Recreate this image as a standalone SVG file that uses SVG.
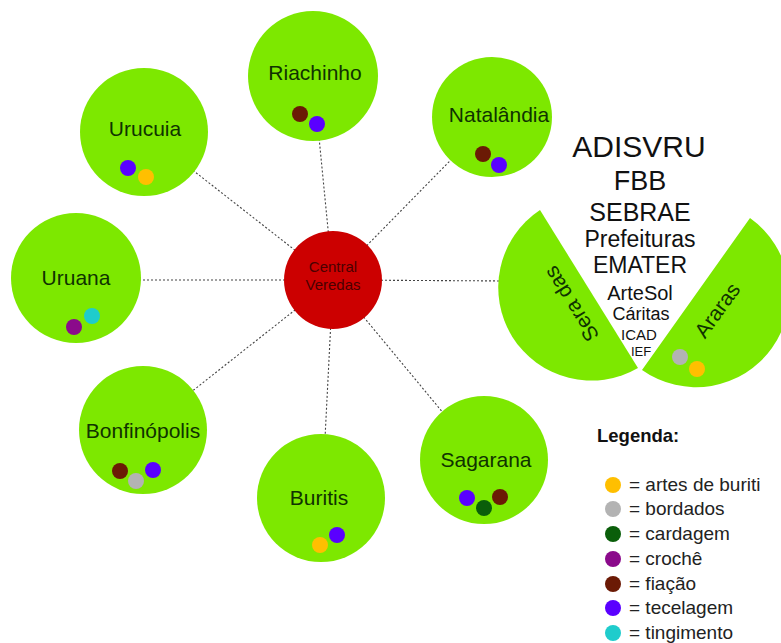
<svg xmlns="http://www.w3.org/2000/svg" width="781" height="643" viewBox="0 0 781 643">
<style>
text{font-family:"Liberation Sans",Arial,sans-serif}
.node{fill:#7de800}
.lbl{font-size:21px;fill:#0f3300;text-anchor:middle}
.conn line{stroke:#444;stroke-width:1.1;stroke-dasharray:2 2}
.org{fill:#111;text-anchor:middle}
.leg{font-size:19px;fill:#222}
.y{fill:#ffbf00}.g{fill:#b3b3b3}.dg{fill:#0a5e0a}.m{fill:#8b0a8b}.b{fill:#6b1a05}.p{fill:#5a00ff}.c{fill:#1fcccc}
</style>
<rect width="781" height="643" fill="#fff"/>
<g id="connectors" class="conn">
<line x1="333" y1="280" x2="313" y2="76"/>
<line x1="333" y1="280" x2="144" y2="132"/>
<line x1="333" y1="280" x2="493" y2="117"/>
<line x1="333" y1="280" x2="76" y2="280"/>
<line x1="333" y1="280" x2="143" y2="430"/>
<line x1="333" y1="280" x2="322" y2="498"/>
<line x1="333" y1="280" x2="483" y2="461"/>
<line x1="333" y1="280" x2="510" y2="281"/>
</g>
<g id="central">
<circle cx="333" cy="280" r="49" fill="#cc0000"/>
<text x="333" y="272" font-size="15" fill="#4a0000" text-anchor="middle">Central</text>
<text x="333" y="290" font-size="15" fill="#4a0000" text-anchor="middle">Veredas</text>
</g>
<g id="riachinho">
<circle class="node" cx="313" cy="76" r="65"/>
<text class="lbl" x="315" y="80">Riachinho</text>
<circle class="b" cx="300" cy="114" r="8"/>
<circle class="p" cx="317" cy="124" r="8"/>
</g>
<g id="urucuia">
<circle class="node" cx="144" cy="132" r="64"/>
<text class="lbl" x="145" y="136">Urucuia</text>
<circle class="p" cx="128" cy="168" r="8"/>
<circle class="y" cx="146" cy="177" r="8"/>
</g>
<g id="natalandia">
<circle class="node" cx="492" cy="117" r="60"/>
<text class="lbl" x="499" y="122">Natalândia</text>
<circle class="b" cx="483" cy="154" r="8"/>
<circle class="p" cx="499" cy="165" r="8"/>
</g>
<g id="uruana">
<circle class="node" cx="76" cy="278" r="65"/>
<text class="lbl" x="76" y="285">Uruana</text>
<circle class="m" cx="74" cy="327" r="8"/>
<circle class="c" cx="92" cy="316" r="8"/>
</g>
<g id="bonfinopolis">
<circle class="node" cx="143" cy="430" r="64"/>
<text class="lbl" x="143" y="438">Bonfinópolis</text>
<circle class="b" cx="120" cy="471" r="8"/>
<circle class="g" cx="136" cy="481" r="8"/>
<circle class="p" cx="153" cy="470" r="8"/>
</g>
<g id="buritis">
<circle class="node" cx="321" cy="498" r="64"/>
<text class="lbl" x="319" y="505">Buritis</text>
<circle class="y" cx="320" cy="545" r="8"/>
<circle class="p" cx="337" cy="535" r="8"/>
</g>
<g id="sagarana">
<circle class="node" cx="484" cy="460" r="64"/>
<text class="lbl" x="486" y="467">Sagarana</text>
<circle class="p" cx="467" cy="498" r="8"/>
<circle class="dg" cx="484" cy="508" r="8"/>
<circle class="b" cx="500" cy="497" r="8"/>
</g>
<g id="sera-das">
<path class="node" d="M540 210 A93 93 0 0 0 638 368 Z"/>
<text class="lbl" transform="translate(571 304) rotate(-122)" dominant-baseline="central">Sera das</text>
</g>
<g id="araras">
<path class="node" d="M750 218 A93 93 0 0 1 642 370 Z"/>
<text class="lbl" transform="translate(717 310) rotate(-54)" dominant-baseline="central">Araras</text>
<circle class="g" cx="680" cy="357" r="8"/>
<circle class="y" cx="697" cy="369" r="8"/>
</g>
<g id="organizacoes">
<text class="org" x="639" y="157" font-size="30">ADISVRU</text>
<text class="org" x="640" y="190" font-size="27">FBB</text>
<text class="org" x="640" y="221" font-size="25">SEBRAE</text>
<text class="org" x="640" y="247" font-size="23">Prefeituras</text>
<text class="org" x="640" y="273" font-size="23">EMATER</text>
<text class="org" x="640" y="300" font-size="20">ArteSol</text>
<text class="org" x="641" y="320" font-size="18">Cáritas</text>
<text class="org" x="639" y="340" font-size="15">ICAD</text>
<text class="org" x="641" y="356" font-size="13">IEF</text>
</g>
<g id="legenda">
<text x="597" y="442" font-size="18.5" font-weight="bold" fill="#111">Legenda:</text>
<circle class="y" cx="613" cy="485" r="8"/>
<text class="leg" x="629" y="491">= artes de buriti</text>
<circle class="g" cx="613" cy="509" r="8"/>
<text class="leg" x="629" y="515">= bordados</text>
<circle class="dg" cx="613" cy="534" r="8"/>
<text class="leg" x="629" y="540">= cardagem</text>
<circle class="m" cx="613" cy="559" r="8"/>
<text class="leg" x="629" y="565">= crochê</text>
<circle class="b" cx="613" cy="584" r="8"/>
<text class="leg" x="629" y="590">= fiação</text>
<circle class="p" cx="613" cy="608" r="8"/>
<text class="leg" x="629" y="614">= tecelagem</text>
<circle class="c" cx="613" cy="633" r="8"/>
<text class="leg" x="629" y="639">= tingimento</text>
</g>
</svg>
